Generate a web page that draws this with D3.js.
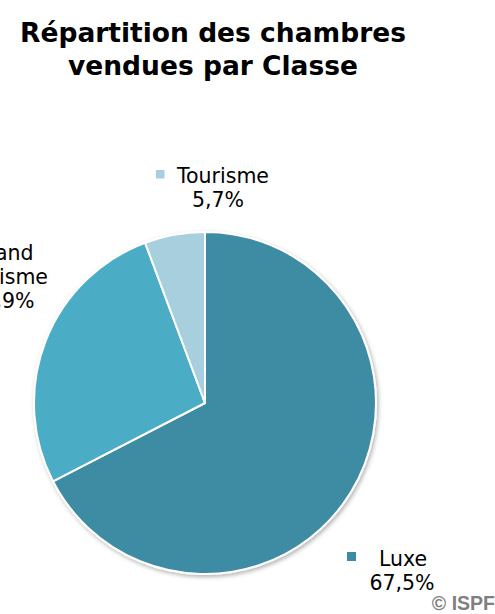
<!DOCTYPE html>
<html lang="fr">
<head>
<meta charset="UTF-8">
<title>Répartition des chambres vendues par Classe</title>
<script src="https://d3js.org/d3.v7.min.js"></script>
<style>
  body { margin: 0; background: #fff; }
  svg { display: block; }
</style>
</head>
<body>
<svg id="chart" width="495" height="614"></svg>
<script>
// data
const categories = ["Luxe", "Grand Tourisme", "Tourisme"];
const values = [67.5, 26.9, 5.7];
const labels = ["67,5%", "26,9%", "5,7%"];
const colors = ["#3d8ca3", "#4bacc6", "#a7cfdd"];

const width = 495, height = 614;
const cx = 205, cy = 403, radius = 171;

const svg = d3.select("#chart");

const defs = svg.append("defs");
const f = defs.append("filter").attr("id", "shadow")
    .attr("x", "-10%").attr("y", "-10%").attr("width", "120%").attr("height", "120%");
f.append("feDropShadow").attr("dx", 1.5).attr("dy", 2).attr("stdDeviation", 2)
    .attr("flood-color", "#000").attr("flood-opacity", 0.3);

// title
const title = svg.append("text")
    .attr("text-anchor", "middle")
    .attr("font-family", "DejaVu Sans, Verdana, sans-serif")
    .attr("font-weight", "bold").attr("font-size", 26.5).attr("fill", "#000");
title.append("tspan").attr("x", 213).attr("y", 42).text("Répartition des chambres");
title.append("tspan").attr("x", 213).attr("y", 75).text("vendues par Classe");

const data = categories.map((c, i) => ({ name: c, value: values[i], label: labels[i], color: colors[i] }));

const pie = d3.pie().sort(null).value(d => d.value).startAngle(0).endAngle(2 * Math.PI);
const arc = d3.arc().innerRadius(0).outerRadius(radius);

const g = svg.append("g").attr("transform", `translate(${cx},${cy})`);

g.append("g").attr("filter", "url(#shadow)")
  .selectAll("path")
  .data(pie(data))
  .join("path")
    .attr("d", arc)
    .attr("fill", d => d.data.color)
    .attr("stroke", "#fff")
    .attr("stroke-width", 2)
    .attr("stroke-linejoin", "round");

// label layout: line centres, first baseline, legend key position
const labelPos = {
  "Luxe": { x: [403, 402], y: 566, key: { x: 347, y: 552, s: 9 } },
  "Grand Tourisme": { x: [2, 2, 2], y: 260, key: null },
  "Tourisme": { x: [223, 218], y: 183, key: { x: 156, y: 170, s: 8.5 } }
};

const font = "DejaVu Sans, Verdana, sans-serif";
const fs = 20.5;

data.forEach(d => {
  const p = labelPos[d.name];
  const lt = svg.append("g");
  const lines = d.name === "Grand Tourisme" ? ["Grand", "Tourisme", d.label] : [d.name, d.label];
  lines.forEach((t, i) => {
    lt.append("text")
      .attr("x", p.x[i])
      .attr("y", p.y + i * 24)
      .attr("text-anchor", "middle")
      .attr("font-family", font).attr("font-size", fs).attr("fill", "#000")
      .text(t);
  });
  if (p.key) {
    lt.append("rect")
      .attr("x", p.key.x).attr("y", p.key.y)
      .attr("width", p.key.s).attr("height", p.key.s)
      .attr("fill", d.color);
  }
});

// copyright
svg.append("text")
  .attr("x", 495).attr("y", 610)
  .attr("text-anchor", "end")
  .attr("font-family", "Liberation Sans, Arial, sans-serif")
  .attr("font-weight", "bold").attr("font-size", 19.5)
  .attr("fill", "#808080")
  .text("© ISPF");
</script>
</body>
</html>
